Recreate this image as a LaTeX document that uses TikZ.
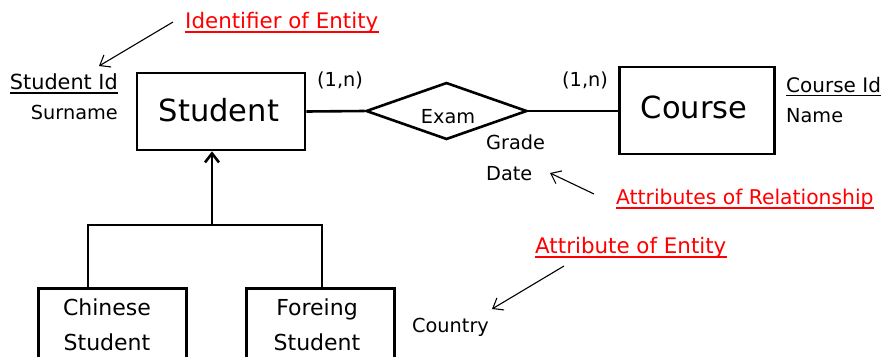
\documentclass[tikz,border=0pt]{standalone}
\usepackage{fontspec}
\setmainfont{DejaVu Sans}
\usetikzlibrary{shapes.geometric,arrows.meta}
\begin{document}
\begin{tikzpicture}[x=1pt,y=-1pt,
  entity/.style={draw, line width=2.6pt, inner sep=0pt},
  txt/.style={inner sep=0pt, font=\fontsize{19.3}{22}\selectfont},
  big/.style={inner sep=0pt, font=\fontsize{30.5}{36}\selectfont},
  sub/.style={inner sep=0pt, font=\fontsize{22}{26}\selectfont},
  note/.style={inner sep=0pt, text=red, font=\fontsize{21.4}{24}\selectfont},
  barb/.tip={Straight Barb[length=9pt,width=14pt]},
  pointer/.style={-barb, line width=1.1pt},
  link/.style={line width=2.6pt},
  uline/.style={line width=1.6pt},
]
\clip (0,0) rectangle (883,356);

% entities and relationship
\node[entity, minimum width=168pt, minimum height=77pt] (student) at (221,111.5) {};
\node[big, anchor=base] (studentlbl) at (219,121) {Student};
\node[entity, minimum width=155pt, minimum height=87pt] (course) at (697,110.5) {};
\node[big, anchor=base] (courselbl) at (694,118) {Course};
\node[draw, diamond, line width=2.6pt, minimum width=161pt, minimum height=57pt, inner sep=0pt] (exam) at (446.5,111) {};
\node[txt, anchor=base] (examlbl) at (448,123) {Exam};

\draw[link] (student.east) -- (exam.west);
\draw[link] (exam.east) -- (exam.east -| course.west);

% cardinalities
\node[txt, anchor=base west] (card1) at (317,86) {(1,n)};
\node[txt, anchor=base west] (card2) at (562,86) {(1,n)};

% attributes
\node[txt, anchor=base east, font=\fontsize{20.8}{24}\selectfont] (sid) at (118,89) {Student Id};
\draw[uline] ([yshift=-4pt]sid.base west) -- ([yshift=-4pt]sid.base east);
\node[txt, anchor=base east] (surname) at (118,119) {Surname};
\node[txt, anchor=base west, font=\fontsize{20}{24}\selectfont] (cid) at (786,92) {Course Id};
\draw[uline] ([yshift=-3.5pt]cid.base west) -- ([yshift=-3.5pt]cid.base east);
\node[txt, anchor=base west] (cname) at (786,122) {Name};
\node[txt, anchor=base west] (grade) at (486,149) {Grade};
\node[txt, anchor=base west] (date) at (486,180) {Date};
\node[txt, anchor=base west] (country) at (412,332) {Country};

% specialisation
\node[entity, minimum width=148pt, minimum height=120pt, anchor=north west] (chinese) at (37,287) {};
\node[entity, minimum width=148pt, minimum height=120pt, anchor=north west] (foreign) at (245,287) {};
\node[sub, anchor=base] (chinese1) at (107,315) {Chinese};
\node[sub, anchor=base] (chinese2) at (107,350) {Student};
\node[sub, anchor=base] (foreign1) at (317,315) {Foreing};
\node[sub, anchor=base] (foreign2) at (317,350) {Student};

\coordinate (fork) at (212,225);
\coordinate (lefttop) at (88,225);
\coordinate (righttop) at (322,225);
\draw[link, -barb] (fork) -- (fork |- student.south);
\draw[link] (lefttop |- chinese.north) -- (lefttop) -- (righttop) -- (righttop |- foreign.north);

% annotations
\node[note, anchor=base west] (idnote) at (185,28) {Identifier of Entity};
\draw[uline, red] ([yshift=-4pt]idnote.base west) -- ([yshift=-4pt]idnote.base east);
\node[note, anchor=base west, font=\fontsize{20.3}{24}\selectfont] (relnote) at (616,204) {Attributes of Relationship};
\draw[uline, red] ([yshift=-4pt]relnote.base west) -- ([yshift=-4pt]relnote.base east);
\node[note, anchor=base west] (attnote) at (535,253) {Attribute of Entity};
\draw[uline, red] ([yshift=-4pt]attnote.base west) -- ([yshift=-4pt]attnote.base east);

\coordinate (idtail) at (173,22);
\coordinate (idtip) at (99,66);
\draw[pointer] (idtail) -- (idtip);
\coordinate (reltail) at (594,194);
\coordinate (reltip) at (550,173);
\draw[pointer] (reltail) -- (reltip);
\coordinate (atttail) at (564,266);
\coordinate (atttip) at (492,309);
\draw[pointer] (atttail) -- (atttip);
\end{tikzpicture}
\end{document}
